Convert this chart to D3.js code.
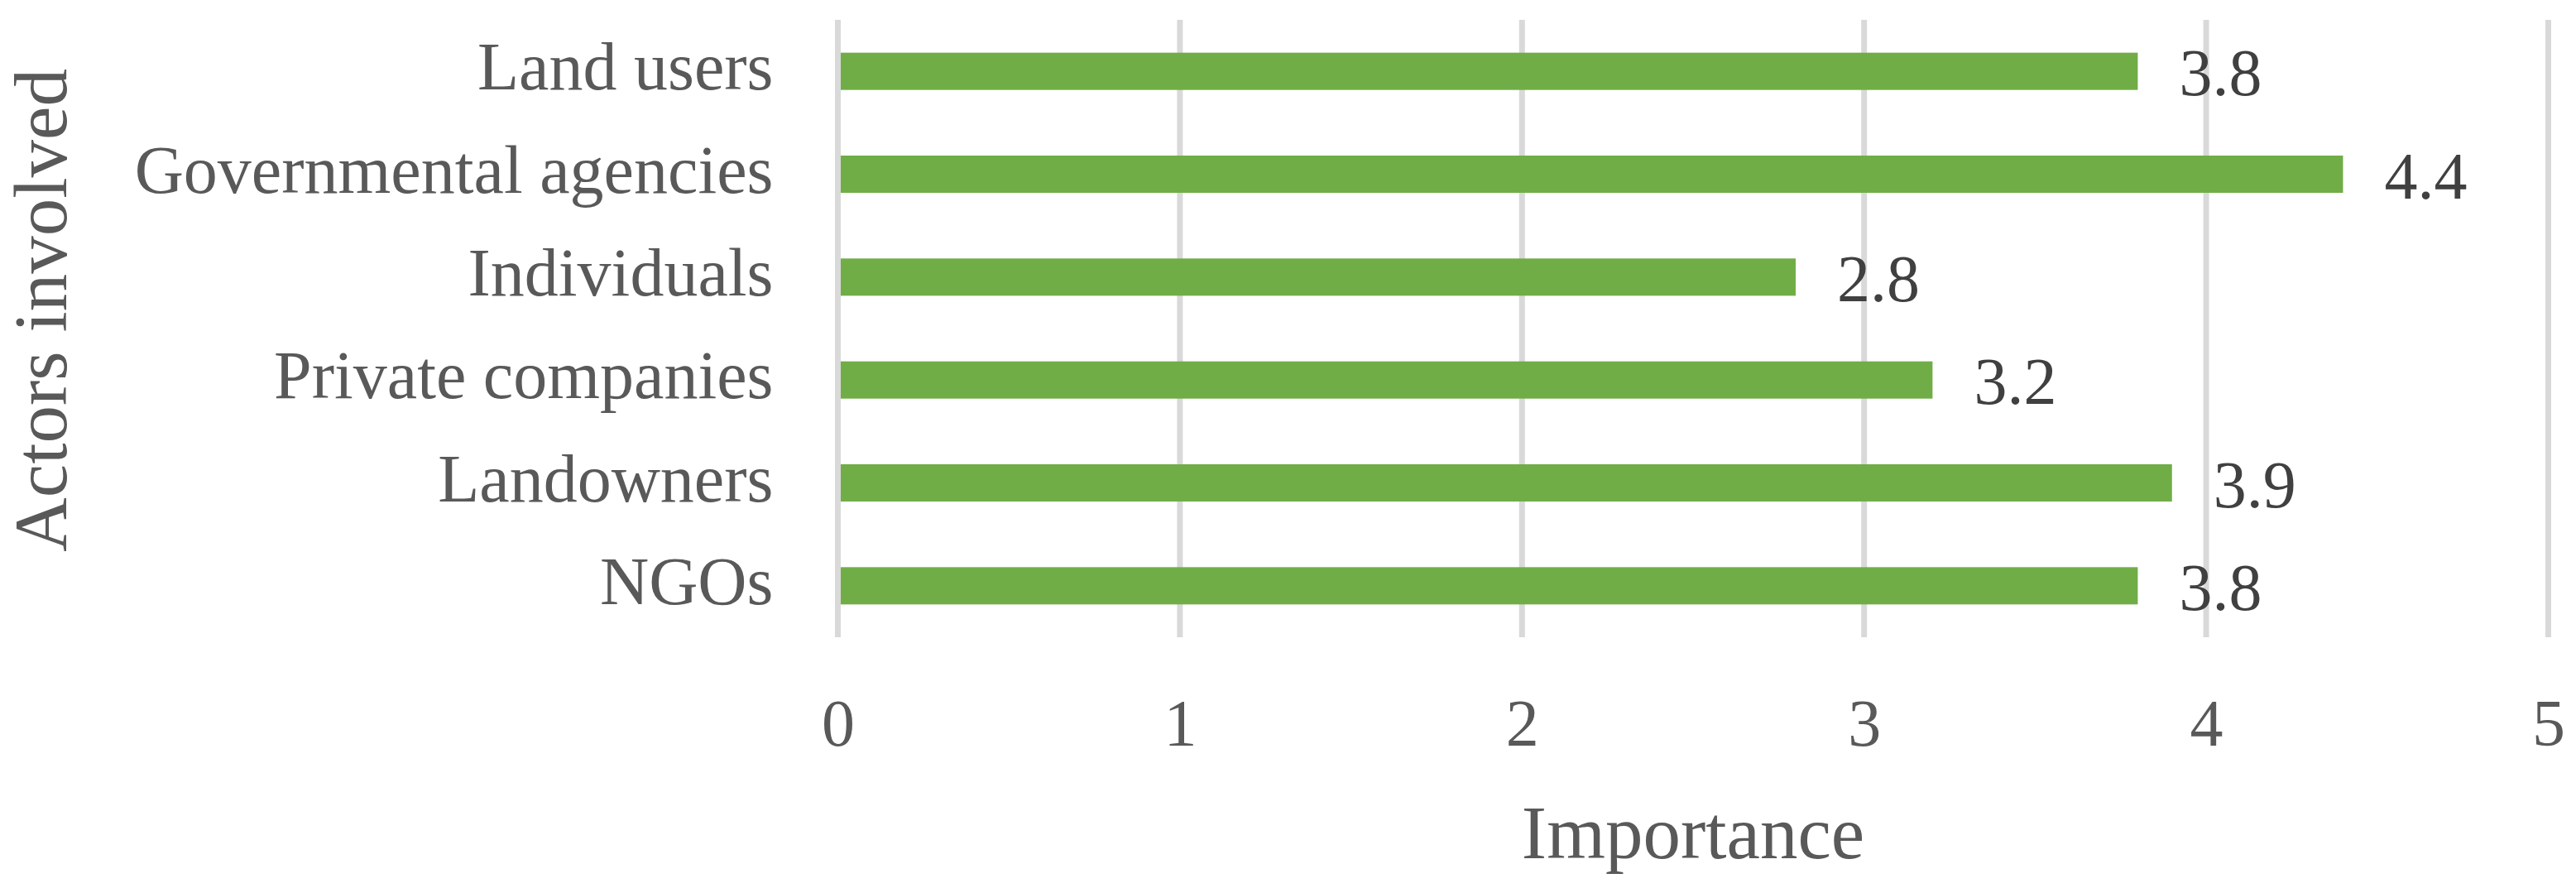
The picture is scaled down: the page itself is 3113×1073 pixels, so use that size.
<!DOCTYPE html>
<html>
<head>
<meta charset="utf-8">
<script src="https://cdn.jsdelivr.net/npm/d3@7"></script>
<style>
  html, body { margin: 0; padding: 0; background: #ffffff; }
  svg { display: block; }
</style>
</head>
<body>
<svg id="chart" width="3113" height="1073"></svg>
<script>
const categories = ["Land users", "Governmental agencies", "Individuals", "Private companies", "Landowners", "NGOs"];
const values = [3.8, 4.4, 2.8, 3.2, 3.9, 3.8];
const xTicks = [0, 1, 2, 3, 4, 5];
const xTitle = "Importance";
const yTitle = "Actors involved";

const W = 3113, H = 1073;
const plot = { left: 1012.5, right: 3079.5, top: 24, bottom: 770 };
const FONT = "'Liberation Serif', 'Times New Roman', serif";

const svg = d3.select("#chart");
svg.append("rect").attr("width", W).attr("height", H).attr("fill", "#ffffff");

const x = d3.scaleLinear().domain([0, 5]).range([plot.left, plot.right]);
const y = d3.scaleBand().domain(categories).range([plot.top, plot.bottom])
  .paddingInner(0.638).paddingOuter(0.319);

// gridlines
svg.append("g").selectAll("line").data(xTicks).join("line")
  .attr("x1", d => x(d)).attr("x2", d => x(d))
  .attr("y1", plot.top).attr("y2", plot.bottom)
  .attr("stroke", "#d9d9d9").attr("stroke-width", 7);

// bars
svg.append("g").selectAll("rect").data(values).join("rect")
  .attr("x", x(0) + 3.5)
  .attr("y", (d, i) => y(categories[i]))
  .attr("width", d => x(d) - x(0) - 3.5)
  .attr("height", y.bandwidth())
  .attr("fill", "#70ad47");

// value labels
svg.append("g").selectAll("text").data(values).join("text")
  .attr("x", d => x(d) + 50)
  .attr("y", (d, i) => y(categories[i]) + y.bandwidth() / 2 + 29)
  .attr("font-family", FONT).attr("font-size", 80)
  .attr("fill", "#404040")
  .text(d => d.toFixed(1));

// x axis (tick labels only)
const xAxis = d3.axisBottom(x).tickValues(xTicks).tickSize(0).tickPadding(0).tickFormat(d3.format("d"));
const gx = svg.append("g").attr("transform", `translate(0,${plot.bottom})`).call(xAxis);
gx.select(".domain").remove();
gx.selectAll("text")
  .attr("dy", null).attr("y", 131)
  .attr("font-family", FONT).attr("font-size", 80).attr("fill", "#595959");

// y axis (category labels only)
const yAxis = d3.axisLeft(y).tickSize(0).tickPadding(0);
const gy = svg.append("g").attr("transform", `translate(${plot.left - 78},0)`).call(yAxis);
gy.select(".domain").remove();
gy.selectAll("text")
  .attr("dy", null).attr("y", 22).attr("x", 0)
  .attr("font-family", FONT).attr("font-size", 82).attr("fill", "#595959");

// axis titles
svg.append("text")
  .attr("x", (plot.left + plot.right) / 2).attr("y", 1037)
  .attr("text-anchor", "middle")
  .attr("font-family", FONT).attr("font-size", 91).attr("fill", "#595959")
  .text(xTitle);

svg.append("text")
  .attr("transform", `translate(80,375) rotate(-90)`)
  .attr("text-anchor", "middle")
  .attr("font-family", FONT).attr("font-size", 91).attr("fill", "#595959")
  .text(yTitle);
</script>
</body>
</html>
